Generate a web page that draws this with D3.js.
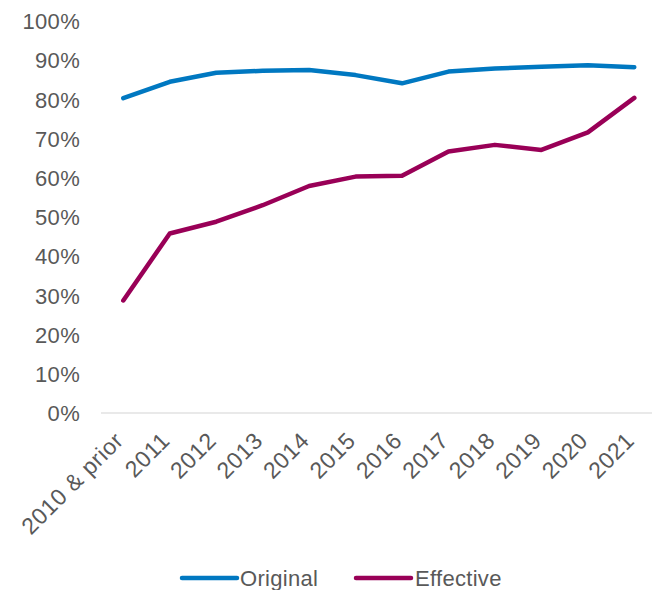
<!DOCTYPE html>
<html>
<head>
<meta charset="utf-8">
<script src="https://cdn.jsdelivr.net/npm/d3@7"></script>
<style>
  html, body { margin: 0; padding: 0; background: #fff; }
  svg text { font-family: "Liberation Sans", Arial, sans-serif; fill: #595959; letter-spacing: 0.3px; }
</style>
</head>
<body>
<svg id="chart" width="652" height="590"></svg>
<script>
// Categories along the x axis
const categories = ["2010 & prior", "2011", "2012", "2013", "2014", "2015", "2016", "2017", "2018", "2019", "2020", "2021"];
// Series values (fraction of total)
const original  = [0.803, 0.845, 0.868, 0.873, 0.875, 0.862, 0.841, 0.871, 0.879, 0.883, 0.887, 0.882];
const effective = [0.287, 0.458, 0.488, 0.530, 0.579, 0.603, 0.605, 0.667, 0.684, 0.671, 0.716, 0.804];
// Y-axis ticks
const yTicks = [0, 0.1, 0.2, 0.3, 0.4, 0.5, 0.6, 0.7, 0.8, 0.9, 1.0];
const seriesNames = ["Original", "Effective"];
const seriesColors = ["#0078C1", "#990057"];
const fontSize = 22;

const svg = d3.select("#chart");

const x = d3.scalePoint().domain(categories).range([123.3, 634.3]);
const y = d3.scaleLinear().domain([0, 1]).range([413, 21]);

// Y axis labels (no axis line or ticks)
const yAxis = d3.axisLeft(y).tickValues(yTicks).tickFormat(d3.format(".0%")).tickSize(0).tickPadding(0);
const gy = svg.append("g").attr("transform", "translate(80,0)").call(yAxis);
gy.select(".domain").remove();
gy.selectAll("text").attr("font-size", fontSize).attr("fill", "#595959").attr("dy", "0.35em")
  .style("font-family", "'Liberation Sans', Arial, sans-serif");

// Baseline at 0%
svg.append("line")
  .attr("x1", 101).attr("x2", 652)
  .attr("y1", y(0)).attr("y2", y(0))
  .attr("stroke", "#d4d4d4").attr("stroke-width", 1.2);

// X axis labels, rotated
const xAxis = d3.axisBottom(x).tickSize(0).tickPadding(0);
const gx = svg.append("g").attr("transform", `translate(0,${y(0)})`).call(xAxis);
gx.select(".domain").remove();
gx.selectAll(".tick text")
  .attr("font-size", 23)
  .attr("fill", "#595959")
  .style("font-family", "'Liberation Sans', Arial, sans-serif")
  .style("letter-spacing", "0.6px")
  .attr("text-anchor", "end")
  .attr("y", 0).attr("dy", 0)
  .attr("transform", "translate(1,29) rotate(-45)");

// Lines
const line = d3.line()
  .x((d, i) => x(categories[i]))
  .y(d => y(d));

[original, effective].forEach((vals, k) => {
  svg.append("path")
    .datum(vals)
    .attr("d", line)
    .attr("fill", "none")
    .attr("stroke", seriesColors[k])
    .attr("stroke-width", 4.5)
    .attr("stroke-linejoin", "round")
    .attr("stroke-linecap", "round");
});

// Legend
const legendItems = [
  { x1: 182, x2: 237, tx: 240 },
  { x1: 356, x2: 411, tx: 415 }
];
legendItems.forEach((p, k) => {
  svg.append("line")
    .attr("x1", p.x1).attr("x2", p.x2)
    .attr("y1", 578).attr("y2", 578)
    .attr("stroke", seriesColors[k]).attr("stroke-width", 4.5)
    .attr("stroke-linecap", "round");
  svg.append("text")
    .attr("x", p.tx).attr("y", 578).attr("dy", "0.35em")
    .attr("font-size", fontSize)
    .text(seriesNames[k]);
});
</script>
</body>
</html>
